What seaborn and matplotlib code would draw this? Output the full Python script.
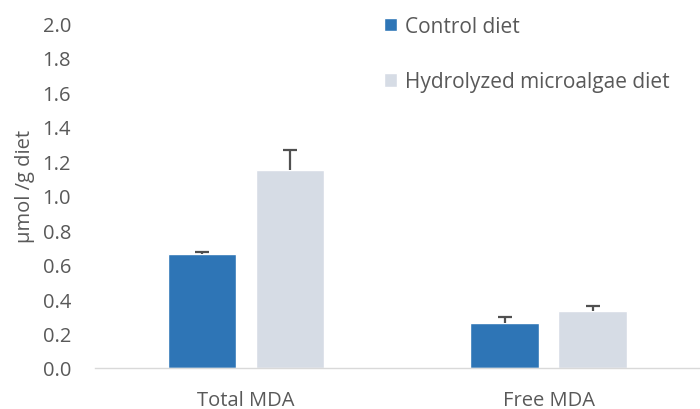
import pandas as pd
import matplotlib.pyplot as plt
import seaborn as sns

# Data
categories = ["Total MDA", "Free MDA"]
diets = ["Control diet", "Hydrolyzed microalgae diet"]
control_vals = [0.66, 0.26]
hydro_vals = [1.15, 0.33]
control_err = [0.012, 0.035]
hydro_err = [0.115, 0.03]

df = pd.DataFrame({
    "Category": categories * 2,
    "Diet": [diets[0]] * 2 + [diets[1]] * 2,
    "Value": control_vals + hydro_vals,
    "Err": control_err + hydro_err,
})

sns.set_style("white")
plt.rcParams["font.family"] = ["Open Sans", "DejaVu Sans"]
text_color = "#595959"

fig = plt.figure(figsize=(7, 4.1), dpi=100)
ax = fig.add_axes([0.135, 0.1, 0.865, 0.841])

sns.barplot(
    data=df,
    x="Category",
    y="Value",
    hue="Diet",
    palette=["#2E75B6", "#D6DCE5"],
    saturation=1,
    width=0.58,
    gap=0.22,
    errorbar=None,
    ax=ax,
)

# Upper-only error bars at bar centres
for container, diet in zip(ax.containers, diets):
    sub = df[df["Diet"] == diet]
    xs = [p.get_x() + p.get_width() / 2 for p in container.patches]
    _, caps, _ = ax.errorbar(
        xs,
        sub["Value"].values,
        yerr=[[0] * len(xs), sub["Err"].values],
        fmt="none",
        ecolor="#505050",
        elinewidth=1.6,
        capsize=5,
        capthick=1.6,
    )
    caps[0].set_visible(False)

ax.set_xlim(-0.5, 1.5)
ax.set_ylim(0, 2.0)
ax.set_yticks([i / 10 for i in range(0, 21, 2)])
ax.set_yticklabels([f"{i / 10:.1f}" for i in range(0, 21, 2)])
ax.tick_params(axis="both", length=0, labelsize=14.5, colors=text_color)
ax.tick_params(axis="x", pad=16)
ax.tick_params(axis="y", pad=17)

ax.set_xlabel("")
ax.set_ylabel("μmol /g diet", fontsize=14.5, color=text_color)
ax.yaxis.set_label_coords(-0.098, 0.53)

for s in ["top", "right", "left"]:
    ax.spines[s].set_visible(False)
ax.spines["bottom"].set_color("#D9D9D9")
ax.spines["bottom"].set_linewidth(1)

leg = ax.legend(
    loc="upper left",
    bbox_to_anchor=(0.447, 1.075),
    frameon=False,
    fontsize=15,
    handlelength=0.62,
    handleheight=0.62,
    handletextpad=0.4,
    labelspacing=1.65,
)
for t in leg.get_texts():
    t.set_color(text_color)

plt.savefig("out.png", dpi=100)
